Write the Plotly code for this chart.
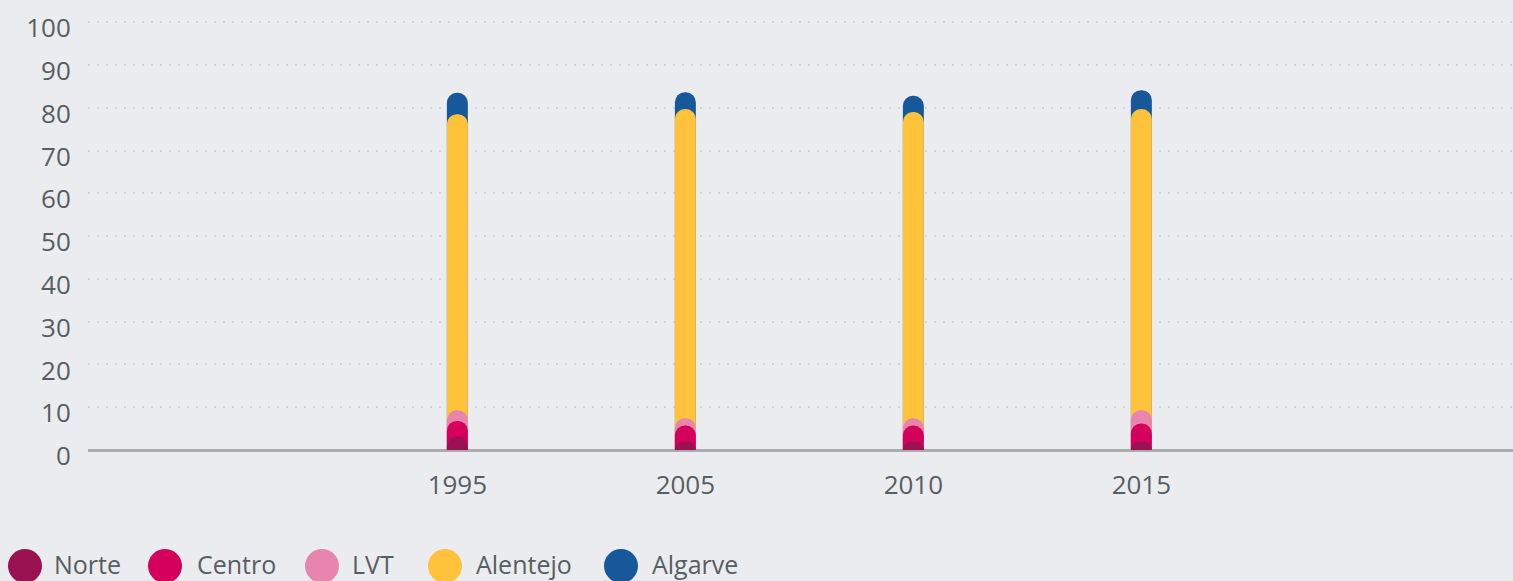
import numpy as np
import plotly.graph_objects as go

years = ["1995", "2005", "2010", "2015"]
regions = ["Norte", "Centro", "LVT", "Alentejo", "Algarve"]
norte = [3.1, 1.9, 1.9, 1.9]
centro = [3.7, 3.8, 3.8, 4.3]
lvt = [2.5, 1.7, 1.7, 3.1]
alentejo = [69.2, 72.3, 71.6, 70.4]
algarve = [5.0, 3.9, 3.8, 4.4]
colors = ["#9b1252", "#d4005c", "#e885ae", "#fec23b", "#17589b"]
y_ticks = [0, 10, 20, 30, 40, 50, 60, 70, 80, 90, 100]

series = [norte, centro, lvt, alentejo, algarve]
cum = np.cumsum(np.array(series), axis=0)

BG = "#ebecf0"
TXT = "#575e61"
FONT = "Open Sans"
W, H = 1513, 581
ML, MR, MT, MB = 88, 0, 20, 131
PW, PH = W - ML - MR, H - MT - MB
XR = [-1.62, 4.63]

fig = go.Figure()
# each cumulative bar on its own overlaid x-axis so every segment gets a rounded cap;
# largest cumulative drawn first (bottom layer)
order = list(reversed(range(len(regions))))
for k, i in enumerate(order):
    xa = "x" if k == 0 else f"x{k + 1}"
    fig.add_trace(go.Bar(
        x=years, y=cum[i], name=regions[i], width=0.092,
        marker=dict(color=colors[i], line=dict(width=0), cornerradius="50%"),
        showlegend=False, xaxis=xa, yaxis="y",
        hovertemplate=regions[i] + ": %{y:.1f}<extra></extra>",
    ))
    if k > 0:
        fig.update_layout(**{f"xaxis{k + 1}": dict(
            type="category", range=XR, overlaying="x", visible=False,
            showgrid=False, zeroline=False)})

# custom legend: round swatches + text
leg_circle_cx = [25, 165, 322, 445, 621]
leg_text_x = [52, 195, 350, 474, 650]
leg_cy = 566
leg_ty = 564
shapes = []
annotations = []
for i, r in enumerate(regions):
    shapes.append(dict(type="circle", xref="paper", yref="paper", xsizemode="pixel",
                       ysizemode="pixel", xanchor=(leg_circle_cx[i] - ML) / PW,
                       yanchor=(H - MB - leg_cy) / PH, x0=-17, x1=17,
                       y0=-17, y1=17, fillcolor=colors[i], line=dict(width=0)))
    annotations.append(dict(text=r, xref="paper", yref="paper",
                            x=(leg_text_x[i] - ML) / PW, y=(H - MB - leg_ty) / PH,
                            xanchor="left", yanchor="middle", showarrow=False,
                            font=dict(family=FONT, size=25, color=TXT)))

fig.update_layout(
    width=W, height=H,
    margin=dict(l=ML, r=MR, t=MT, b=MB, autoexpand=False),
    paper_bgcolor=BG, plot_bgcolor=BG,
    barmode="overlay",
    font=dict(family=FONT, size=26, color=TXT),
    showlegend=False,
    shapes=shapes, annotations=annotations,
    xaxis=dict(type="category", range=XR, showgrid=False, showline=False,
               zeroline=False, ticks="outside", ticklen=0, ticklabelstandoff=12,
               tickfont=dict(family=FONT, size=26, color=TXT)),
    yaxis=dict(range=[0, 100.5], tickvals=y_ticks, showgrid=True,
               gridcolor="#d2d5da", gridwidth=2, griddash="2px,7px", zeroline=True,
               zerolinecolor="#a8acae", zerolinewidth=3, showline=False,
               ticks="outside", ticklen=0, ticklabelstandoff=11, ticklabelshift=6,
               tickfont=dict(family=FONT, size=26, color=TXT)),
)

fig.write_html("out.html", config={"displayModeBar": False},
               post_script="document.body.style.margin='0';")
